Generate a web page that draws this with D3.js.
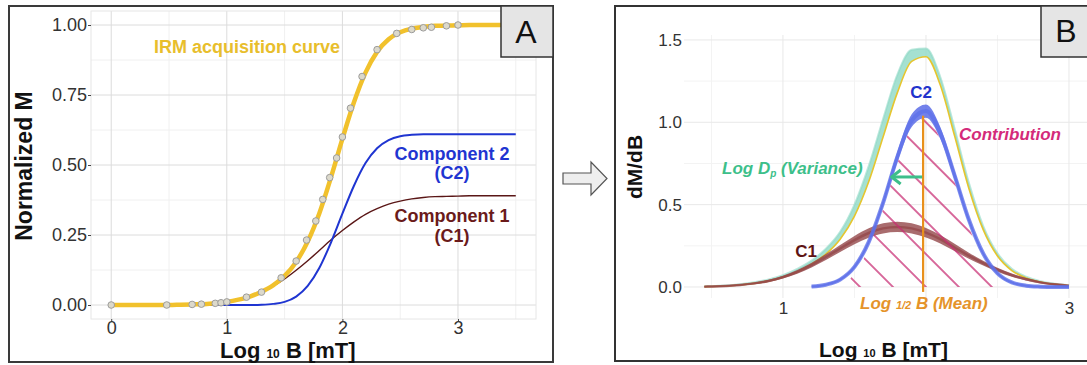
<!DOCTYPE html>
<html><head><meta charset="utf-8">
<script src="https://cdn.jsdelivr.net/npm/d3@7"></script>
<style>
html,body{margin:0;padding:0;background:#fff;}
svg{display:block;font-family:"Liberation Sans",Arial,Helvetica,sans-serif;}
</style></head><body>
<svg id="chart" width="1087" height="365"></svg>
<script>
// ---------- Panel A data (cumulative IRM acquisition) ----------
const logB = [0,0.1,0.2,0.3,0.4,0.5,0.6,0.7,0.8,0.9,1.0,1.1,1.2,1.3,1.4,1.5,1.6,1.7,1.8,1.9,2.0,2.1,2.2,2.3,2.4,2.5,2.6,2.7,2.8,2.9,3.0,3.1,3.2,3.3,3.4,3.5];
const irmFit = [0,0,0,0,0,0,0.001,0.002,0.003,0.006,0.011,0.019,0.030,0.047,0.070,0.104,0.154,0.227,0.327,0.454,0.593,0.724,0.830,0.904,0.949,0.974,0.987,0.993,0.997,0.998,0.999,1.0,1.0,1.0,1.0,1.0];
const comp1 = [0,0,0,0,0,0,0.001,0.002,0.003,0.006,0.011,0.019,0.030,0.046,0.067,0.093,0.124,0.158,0.195,0.232,0.266,0.297,0.324,0.344,0.360,0.371,0.379,0.384,0.387,0.388,0.389,0.390,0.390,0.390,0.390,0.390];
const comp2 = [0,0,0,0,0,0,0,0,0,0,0,0,0,0.001,0.004,0.011,0.030,0.068,0.132,0.222,0.326,0.426,0.507,0.560,0.589,0.603,0.608,0.610,0.610,0.610,0.610,0.610,0.610,0.610,0.610,0.610];
const measX = [0,0.48,0.70,0.78,0.90,0.95,1.0,1.17,1.30,1.47,1.60,1.69,1.77,1.83,1.89,1.95,2.0,2.07,2.17,2.30,2.47,2.60,2.70,2.77,2.90,3.0];
const measY = [0,0,0.002,0.003,0.006,0.008,0.011,0.028,0.046,0.097,0.157,0.232,0.300,0.377,0.455,0.525,0.600,0.703,0.816,0.912,0.970,0.984,0.990,0.992,0.997,1.0];
const xTicksA = [0,1,2,3];
const yTicksA = [0,0.25,0.5,0.75,1.0];
const xMinorA = [0.5,1.5,2.5,3.5];
const yMinorA = [0.125,0.375,0.625,0.875];

// ---------- Panel B data (gradient dM/dB) ----------
const logBd = [0.45,0.5,0.6,0.7,0.8,0.9,1.0,1.1,1.2,1.3,1.4,1.5,1.6,1.7,1.8,1.9,2.0,2.1,2.2,2.3,2.4,2.5,2.6,2.7,2.8,2.9,3.0];
const dSum  = [0.002,0.003,0.006,0.012,0.022,0.037,0.060,0.093,0.138,0.200,0.290,0.430,0.640,0.910,1.180,1.370,1.398,1.226,0.918,0.598,0.348,0.188,0.100,0.055,0.030,0.016,0.008];
const dMeasHi = [0.004,0.005,0.009,0.017,0.029,0.046,0.072,0.110,0.160,0.232,0.335,0.500,0.735,1.020,1.290,1.440,1.448,1.275,0.962,0.632,0.370,0.204,0.110,0.062,0.035,0.020,0.011];
const dC1   = [0.002,0.003,0.006,0.012,0.022,0.037,0.060,0.092,0.133,0.182,0.234,0.285,0.328,0.356,0.365,0.356,0.330,0.290,0.240,0.190,0.145,0.105,0.072,0.047,0.028,0.016,0.008];
const dC2   = [null,null,null,null,null,null,null,null,0.003,0.014,0.045,0.122,0.274,0.511,0.790,1.010,1.068,0.936,0.678,0.408,0.203,0.083,0.028,0.008,0.002,0,0];
const meanLogB = 1.98;
const dispersionDP = 0.22;
const xTicksB = [1,3];
const yTicksB = [0,0.5,1.0,1.5];
const xMajorB = [1,2,3];
const xMinorB = [0.5,1.5,2.5];
const yMinorB = [0.25,0.75,1.25];

const svg = d3.select('#chart');
const FONT = '"Liberation Sans",Arial,Helvetica,sans-serif';

// ---------- defs ----------
const defs = svg.append('defs');
const hw = 23.3;
const pat = defs.append('pattern').attr('id','hatch').attr('patternUnits','userSpaceOnUse')
  .attr('width',hw).attr('height',20)
  .attr('patternTransform','translate(893,287) rotate(-45) translate(' + (-hw/2) + ',0)');
pat.append('line').attr('x1',hw/2).attr('x2',hw/2).attr('y1',0).attr('y2',20)
  .attr('stroke','#c82a72').attr('stroke-width',1.4);

// ================= PANEL A =================
const xA = d3.scaleLinear().domain([-0.175,3.675]).range([91,536]);
const yA = d3.scaleLinear().domain([-0.05,1.05]).range([319,11]);
const gA = svg.append('g');
gA.append('rect').attr('x',9).attr('y',6).attr('width',544).attr('height',356)
  .attr('fill','#fff').attr('stroke','#3a3a3a').attr('stroke-width',2);

// grid
gA.selectAll('.vmin').data(xMinorA).join('line').attr('x1',d=>xA(d)).attr('x2',d=>xA(d))
  .attr('y1',yA.range()[0]).attr('y2',yA.range()[1]).attr('stroke','#f0f0f0').attr('stroke-width',1);
gA.selectAll('.hmin').data(yMinorA).join('line').attr('y1',d=>yA(d)).attr('y2',d=>yA(d))
  .attr('x1',xA.range()[0]).attr('x2',xA.range()[1]).attr('stroke','#f0f0f0').attr('stroke-width',1);
gA.selectAll('.vmaj').data(xTicksA).join('line').attr('x1',d=>xA(d)).attr('x2',d=>xA(d))
  .attr('y1',yA.range()[0]).attr('y2',yA.range()[1]).attr('stroke','#dcdcdc').attr('stroke-width',1);
gA.selectAll('.hmaj').data(yTicksA).join('line').attr('y1',d=>yA(d)).attr('y2',d=>yA(d))
  .attr('x1',xA.range()[0]).attr('x2',xA.range()[1]).attr('stroke','#dcdcdc').attr('stroke-width',1);
gA.append('rect').attr('x',91).attr('y',11).attr('width',445).attr('height',308)
  .attr('fill','none').attr('stroke','#e6e6e6');

// axes
const axLA = gA.append('g').attr('transform','translate(91,0)')
  .call(d3.axisLeft(yA).tickValues(yTicksA).tickFormat(d3.format('.2f')).tickSize(3).tickPadding(1));
const axBA = gA.append('g').attr('transform','translate(0,319)')
  .call(d3.axisBottom(xA).tickValues(xTicksA).tickFormat(d3.format('d')).tickSize(3).tickPadding(-1));
[axLA,axBA].forEach(a=>{
  a.select('.domain').remove();
  a.selectAll('line').attr('stroke','#444');
  a.selectAll('text').attr('font-size',18).attr('fill','#333').attr('font-family',FONT);
});

// lines
const ptsA = arr => logB.map((x,i)=>[x,arr[i]]);
const lineA = d3.line().x(d=>xA(d[0])).y(d=>yA(d[1])).curve(d3.curveMonotoneX);
gA.append('path').attr('d',lineA(ptsA(comp1))).attr('fill','none').attr('stroke','#5a1616').attr('stroke-width',1.4);
gA.append('path').attr('d',lineA(ptsA(comp2))).attr('fill','none').attr('stroke','#1f35d1').attr('stroke-width',2);
gA.append('path').attr('d',lineA(ptsA(irmFit))).attr('fill','none').attr('stroke','#f1c12c').attr('stroke-width',4.5);
gA.selectAll('.pt').data(measX.map((x,i)=>[x,measY[i]])).join('circle')
  .attr('cx',d=>xA(d[0])).attr('cy',d=>yA(d[1])).attr('r',3.3)
  .attr('fill','#dcd9cb').attr('stroke','#9c9c9c').attr('stroke-width',1);

// labels
gA.append('text').attr('x',154).attr('y',53).attr('font-size',18).attr('font-weight','bold')
  .attr('fill','#e8be2c').text('IRM acquisition curve');
const lab2 = gA.append('text').attr('font-size',18).attr('font-weight','bold').attr('fill','#1f35d1').attr('text-anchor','middle');
lab2.append('tspan').attr('x',452).attr('y',160).text('Component 2');
lab2.append('tspan').attr('x',452).attr('y',179).text('(C2)');
const lab1 = gA.append('text').attr('font-size',18).attr('font-weight','bold').attr('fill','#6a1a1a').attr('text-anchor','middle');
lab1.append('tspan').attr('x',452).attr('y',222).text('Component 1');
lab1.append('tspan').attr('x',452).attr('y',242).text('(C1)');

gA.append('text').attr('transform','translate(32,166) rotate(-90)').attr('text-anchor','middle')
  .attr('font-size',23).attr('font-weight','bold').attr('fill','#111').text('Normalized M');
const xtA = gA.append('text').attr('x',220).attr('y',358).attr('font-size',22).attr('font-weight','bold').attr('fill','#111');
xtA.append('tspan').text('Log ');
xtA.append('tspan').attr('font-size',12).text('10');
xtA.append('tspan').text(' B [mT]');

gA.append('rect').attr('x',501).attr('y',6).attr('width',52).attr('height',51)
  .attr('fill','#e5e5e5').attr('stroke','#333').attr('stroke-width',1.5);
gA.append('text').attr('x',526).attr('y',43).attr('text-anchor','middle').attr('font-size',32).attr('fill','#111').text('A');

// ================= ARROW BETWEEN =================
svg.append('path').attr('d','M563,173 L591,173 L591,162 L607,178.5 L591,195 L591,184 L563,184 Z')
  .attr('fill','#eeeeee').attr('stroke','#555').attr('stroke-width',1.2);

// ================= PANEL B =================
const xB = d3.scaleLinear().domain([0.308,3.128]).range([684,1087.3]);
const yB = d3.scaleLinear().domain([-0.0668,1.53]).range([298,35]);
const gB = svg.append('g');
gB.append('rect').attr('x',615).attr('y',6).attr('width',500).attr('height',355)
  .attr('fill','#fff').attr('stroke','#333').attr('stroke-width',2);
defs.append('clipPath').attr('id','clipB').append('rect').attr('x',684).attr('y',35).attr('width',410).attr('height',263);

gB.selectAll('.vminb').data(xMinorB).join('line').attr('x1',d=>xB(d)).attr('x2',d=>xB(d))
  .attr('y1',298).attr('y2',35).attr('stroke','#f3f3f3');
gB.selectAll('.hminb').data(yMinorB).join('line').attr('y1',d=>yB(d)).attr('y2',d=>yB(d))
  .attr('x1',684).attr('x2',1087).attr('stroke','#f3f3f3');
gB.selectAll('.vmajb').data(xMajorB).join('line').attr('x1',d=>xB(d)).attr('x2',d=>xB(d))
  .attr('y1',298).attr('y2',35).attr('stroke','#e8e8e8');
gB.selectAll('.hmajb').data(yTicksB).join('line').attr('y1',d=>yB(d)).attr('y2',d=>yB(d))
  .attr('x1',684).attr('x2',1087).attr('stroke','#e8e8e8');

const axLB = gB.append('g').attr('transform','translate(684,0)')
  .call(d3.axisLeft(yB).tickValues(yTicksB).tickFormat(d3.format('.1f')).tickSize(0).tickPadding(2));
const axBB = gB.append('g').attr('transform','translate(0,298)')
  .call(d3.axisBottom(xB).tickValues(xTicksB).tickFormat(d3.format('d')).tickSize(0).tickPadding(4));
[axLB,axBB].forEach(a=>{
  a.select('.domain').remove();
  a.selectAll('line').remove();
  a.selectAll('text').attr('font-size',17).attr('fill','#333').attr('font-family',FONT);
});

const plotB = gB.append('g').attr('clip-path','url(#clipB)');
const rowsB = logBd.map((x,i)=>({x, s:dSum[i], hi:dMeasHi[i], c1:dC1[i], c2:dC2[i]}));

// measured (teal) envelope
plotB.append('path').attr('d', d3.area().x(d=>xB(d.x)).y0(d=>yB(d.s)).y1(d=>yB(d.hi)).curve(d3.curveMonotoneX)(rowsB))
  .attr('fill','#8fd9c6').attr('opacity',0.8);
plotB.append('path').attr('d', d3.line().x(d=>xB(d.x)).y(d=>yB(d.hi)).curve(d3.curveMonotoneX)(rowsB))
  .attr('fill','none').attr('stroke','#8fd9c6').attr('stroke-width',2).attr('opacity',0.6);
// sum line
plotB.append('path').attr('d', d3.line().x(d=>xB(d.x)).y(d=>yB(d.s)).curve(d3.curveMonotoneX)(rowsB))
  .attr('fill','none').attr('stroke','#e6c52e').attr('stroke-width',1.6);
// C1 band
plotB.append('path').attr('d', d3.area().x(d=>xB(d.x))
    .y0(d=>yB(d.c1-(0.004+0.075*d.c1))).y1(d=>yB(d.c1+(0.004+0.075*d.c1))).curve(d3.curveMonotoneX)(rowsB))
  .attr('fill','#94474a').attr('opacity',0.8);
plotB.append('path').attr('d', d3.line().x(d=>xB(d.x)).y(d=>yB(d.c1)).curve(d3.curveMonotoneX)(rowsB))
  .attr('fill','none').attr('stroke','#94474a').attr('stroke-width',2.5).attr('opacity',0.75);
// C2 band
const rowsC2 = rowsB.filter(d=>d.c2!=null);
plotB.append('path').attr('d', d3.area().x(d=>xB(d.x))
    .y0(d=>yB(d.c2-(0.006+0.032*d.c2))).y1(d=>yB(d.c2+(0.006+0.032*d.c2))).curve(d3.curveMonotoneX)(rowsC2))
  .attr('fill','#5063e6').attr('opacity',0.8);
plotB.append('path').attr('d', d3.line().x(d=>xB(d.x)).y(d=>yB(d.c2)).curve(d3.curveMonotoneX)(rowsC2))
  .attr('fill','none').attr('stroke','#5f72ea').attr('stroke-width',4).attr('opacity',0.8);
// hatched contribution
plotB.append('path').attr('d', d3.area().x(d=>xB(d.x)).y0(yB(0)).y1(d=>yB(Math.max(0,d.c2-0.04))).curve(d3.curveMonotoneX)(rowsC2))
  .attr('fill','url(#hatch)');
// mean line
plotB.append('line').attr('x1',xB(meanLogB)).attr('x2',xB(meanLogB))
  .attr('y1',yB(-0.03)).attr('y2',yB(1.04)).attr('stroke','#e8901c').attr('stroke-width',2.2);
// dispersion arrow
const ay = yB(0.668);
plotB.append('line').attr('x1',xB(meanLogB)-1).attr('x2',xB(meanLogB-dispersionDP)+1)
  .attr('y1',ay).attr('y2',ay).attr('stroke','#3dbf8a').attr('stroke-width',3);
plotB.append('path').attr('d',`M${xB(meanLogB-dispersionDP)+9},${ay-7} L${xB(meanLogB-dispersionDP)},${ay} L${xB(meanLogB-dispersionDP)+9},${ay+7}`)
  .attr('fill','none').attr('stroke','#3dbf8a').attr('stroke-width',3).attr('stroke-linejoin','round');

// labels B
gB.append('text').attr('x',921).attr('y',98).attr('text-anchor','middle').attr('font-size',17)
  .attr('font-weight','bold').attr('fill','#2233cc').text('C2');
gB.append('text').attr('x',806).attr('y',257).attr('text-anchor','middle').attr('font-size',17)
  .attr('font-weight','bold').attr('fill','#5e1414').text('C1');
gB.append('text').attr('x',959).attr('y',140).attr('font-size',17).attr('font-weight','bold')
  .attr('font-style','italic').attr('fill','#d42a7a').text('Contribution');
const tV = gB.append('text').attr('x',722).attr('y',174).attr('font-size',17).attr('font-weight','bold')
  .attr('font-style','italic').attr('fill','#3dbf8a');
tV.append('tspan').text('Log D');
tV.append('tspan').attr('font-size',10).attr('dy',3).text('p');
tV.append('tspan').attr('dy',-3).text(' (Variance)');
const tM = gB.append('text').attr('x',860).attr('y',309).attr('font-size',17).attr('font-weight','bold')
  .attr('font-style','italic').attr('fill','#e5932a');
tM.append('tspan').text('Log ');
tM.append('tspan').attr('font-size',11).text('1/2');
tM.append('tspan').text(' B (Mean)');

gB.append('text').attr('transform','translate(642,167) rotate(-90)').attr('text-anchor','middle')
  .attr('font-size',21).attr('font-weight','bold').attr('fill','#111').text('dM/dB');
const xtB = gB.append('text').attr('x',819).attr('y',357).attr('font-size',21).attr('font-weight','bold').attr('fill','#111');
xtB.append('tspan').text('Log ');
xtB.append('tspan').attr('font-size',11).text('10');
xtB.append('tspan').text(' B [mT]');

gB.append('rect').attr('x',1041).attr('y',6).attr('width',60).attr('height',51)
  .attr('fill','#e5e5e5').attr('stroke','#333').attr('stroke-width',1.5);
gB.append('text').attr('x',1066).attr('y',42).attr('text-anchor','middle').attr('font-size',32).attr('fill','#111').text('B');
</script>
</body></html>
